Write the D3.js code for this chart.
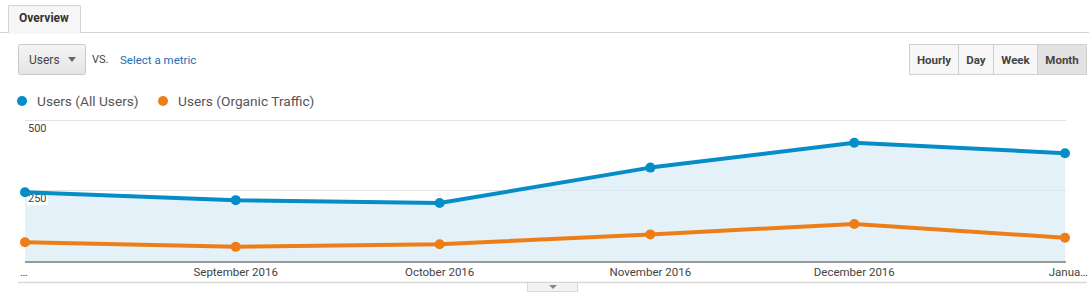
<!DOCTYPE html>
<html><head><meta charset="utf-8">
<script src="https://cdn.jsdelivr.net/npm/d3@7"></script>
<style>
body{margin:0;background:#fff;font-family:Roboto,Arial,sans-serif;}
svg{display:block}
</style></head><body>
<svg id="c" width="1089" height="295"></svg>
<script>
const months = ["2016-08-01","2016-09-01","2016-10-01","2016-11-01","2016-12-01","2017-01-01"];
const tickLabels = ["…","September 2016","October 2016","November 2016","December 2016","Janua…"];
const allUsers = [243, 215, 205, 330, 418, 381];
const organic = [66, 50, 59, 94, 131, 82];
const yTicks = [250, 500];
const seriesNames = ["Users (All Users)","Users (Organic Traffic)"];
const colors = ["#058dc7","#ed7e17"];
const periods = ["Hourly","Day","Week","Month"];

const svg = d3.select("#c");
const W=1089;
const parse = d3.utcParse("%Y-%m-%d");
const dates = months.map(parse);

// Tab
svg.append("line").attr("x1",0).attr("x2",W).attr("y1",32.5).attr("y2",32.5).attr("stroke","#d4d4d4");
svg.append("path").attr("d","M8.5,33 V5.5 H80.5 V33").attr("fill","#f6f6f6").attr("stroke","#d4d4d4");
svg.append("rect").attr("x",9).attr("y",31).attr("width",71).attr("height",3).attr("fill","#f6f6f6");
svg.append("text").attr("x",44).attr("y",22).attr("text-anchor","middle").attr("font-size",12).attr("font-weight","bold").attr("fill","#333").text("Overview");

// Users dropdown
const grad = svg.append("defs").append("linearGradient").attr("id","g").attr("x1",0).attr("x2",0).attr("y1",0).attr("y2",1);
grad.append("stop").attr("offset",0).attr("stop-color","#f5f5f5");
grad.append("stop").attr("offset",1).attr("stop-color","#e4e4e4");
svg.append("rect").attr("x",18.5).attr("y",44.5).attr("width",67).attr("height",30).attr("rx",2).attr("fill","url(#g)").attr("stroke","#c8c8c8");
svg.append("text").attr("x",29).attr("y",64).attr("font-size",12).attr("fill","#444").text("Users");
svg.append("path").attr("d","M68,57 L76,57 L72,62 Z").attr("fill","#666");
svg.append("text").attr("x",92).attr("y",63).attr("font-size",11).attr("fill","#444").text("VS.");
svg.append("text").attr("x",120).attr("y",64).attr("font-size",11.5).attr("fill","#1a6fb5").text("Select a metric");

// Period buttons
const bx=[909.5,958.5,993.5,1037.5,1086.5];
periods.forEach((p,i)=>{
  const active = i===3;
  svg.append("rect").attr("x",bx[i]).attr("y",44.5).attr("width",bx[i+1]-bx[i]).attr("height",30)
    .attr("fill",active?"#e2e2e2":"#f7f7f7").attr("stroke","#cfcfcf");
  svg.append("text").attr("x",(bx[i]+bx[i+1])/2).attr("y",64).attr("text-anchor","middle").attr("font-size",11.5)
    .attr("font-weight","bold").attr("fill","#444").text(p);
});

// Legend
const lx=[22,163];
seriesNames.forEach((n,i)=>{
  svg.append("circle").attr("cx",lx[i]).attr("cy",101).attr("r",5).attr("fill",colors[i]);
  svg.append("text").attr("x",lx[i]+15).attr("y",106).attr("font-size",13.7).attr("fill","#555").text(n);
});

// Scales
const x = d3.scaleUtc().domain([dates[0],dates[dates.length-1]]).range([25,1065]);
const y = d3.scaleLinear().domain([0,500]).range([261,119.5]);

// grid
svg.append("g").selectAll("line").data(yTicks).join("line")
  .attr("x1",25).attr("x2",1066).attr("y1",d=>Math.round(y(d))+0.5).attr("y2",d=>Math.round(y(d))+0.5)
  .attr("stroke","#e6e6e6");

// area
const area = d3.area().x((d,i)=>x(dates[i])).y0(y(0)).y1(d=>y(d));
svg.append("path").datum(allUsers).attr("d",area).attr("fill","#e5f1f8");

svg.append("g").selectAll("line").data(yTicks).join("line")
  .attr("x1",25).attr("x2",1066).attr("y1",d=>Math.round(y(d))+0.5).attr("y2",d=>Math.round(y(d))+0.5)
  .attr("stroke","#d6e3ea").attr("stroke-opacity",0.6);

// y labels
yTicks.forEach(t=>{
  const g=svg.append("g");
  const tx=g.append("text").attr("x",28).attr("y",y(t)+12).attr("font-size",11).attr("fill","#444").text(t);
  if(t===250){
    const bb=tx.node().getBBox();
    g.insert("rect","text").attr("x",bb.x-1).attr("y",bb.y).attr("width",bb.width+2).attr("height",bb.height).attr("fill","#fff");
  }
});

// lines
const line = d3.line().x((d,i)=>x(dates[i])).y(d=>y(d));
[allUsers,organic].forEach((s,i)=>{
  svg.append("path").datum(s).attr("d",line).attr("fill","none").attr("stroke",colors[i]).attr("stroke-width",4).attr("stroke-linejoin","round");
  svg.append("g").selectAll("circle").data(s).join("circle")
    .attr("cx",(d,j)=>x(dates[j])).attr("cy",d=>y(d)).attr("r",5).attr("fill",colors[i]);
});

// x axis
svg.append("line").attr("x1",25).attr("x2",1066).attr("y1",262).attr("y2",262).attr("stroke","#999").attr("stroke-width",2);
dates.forEach((m,i)=>{
  let anchor="middle", xx=x(m);
  if(i===0){anchor="start"; xx=20;}
  if(i===dates.length-1){anchor="end"; xx=1088;}
  svg.append("text").attr("x",xx).attr("y",276).attr("text-anchor",anchor).attr("font-size",11.5).attr("fill","#444").text(tickLabels[i]);
});

// bottom line and toggle
svg.append("line").attr("x1",18).attr("x2",1087).attr("y1",282.5).attr("y2",282.5).attr("stroke","#d8d8d8").attr("stroke-width",1.5);
svg.append("rect").attr("x",527.5).attr("y",282.5).attr("width",50).attr("height",9).attr("fill","#f2f2f2").attr("stroke","#d8d8d8");
svg.append("path").attr("d","M549,285 L557,285 L553,289 Z").attr("fill","#888");
</script>
</body></html>
